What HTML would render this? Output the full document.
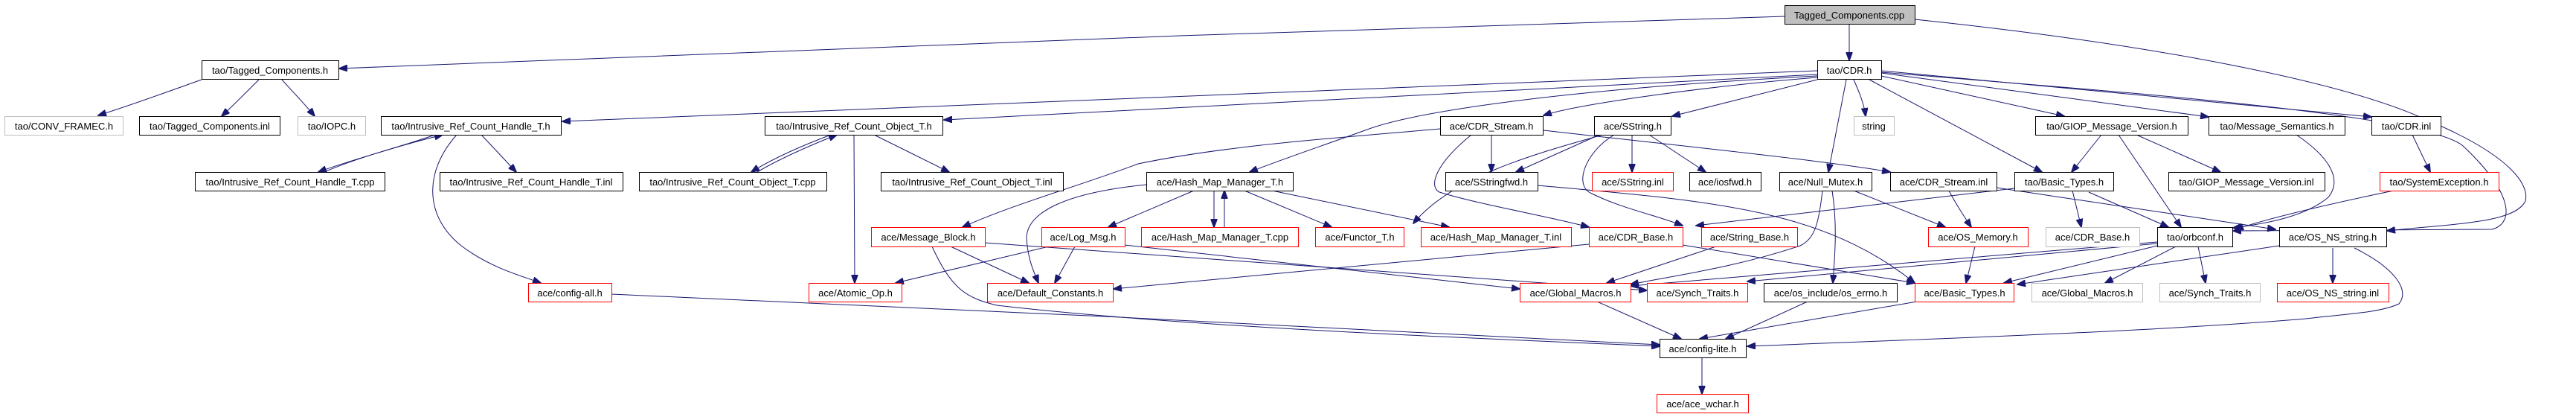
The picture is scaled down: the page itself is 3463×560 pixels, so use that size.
<!DOCTYPE html>
<html><head><meta charset="utf-8"><style>
html,body{margin:0;padding:0;background:#fff;}
svg{display:block;}
text{font-family:"Liberation Sans",sans-serif;font-size:13px;fill:#000;}
.b{fill:#fff;stroke:#000;stroke-width:1;}
.r{fill:#fff;stroke:#f00;stroke-width:1;}
.g{fill:#fff;stroke:#bfbfbf;stroke-width:1;}
.c{fill:#bfbfbf;stroke:#000;stroke-width:1;}
.e{fill:none;stroke:#191970;stroke-width:1;}
</style></head><body>
<svg width="3463" height="560" viewBox="0 0 3463 560" xmlns="http://www.w3.org/2000/svg">
<defs><marker id="a" markerWidth="12" markerHeight="9" refX="11" refY="4.5" orient="auto" markerUnits="userSpaceOnUse"><path d="M0,0 L12,4.5 L0,9 z" fill="#191970" stroke="#191970"/></marker></defs>
<g class="edges" marker-end="url(#a)">
<path class="e" marker-end="url(#a)" d="M2399,22 C1800,40 900,70 456,92"/>
<path class="e" marker-end="url(#a)" d="M2486,32 L2486,81"/>
<path class="e" marker-end="url(#a)" d="M2574,26 C2900,60 3150,110 3260,160 C3380,210 3400,250 3395,270 C3380,300 3300,300 3209,310"/>
<path class="e" marker-end="url(#a)" d="M2529,97 C2800,120 3250,150 3310,195 C3380,260 3380,300 3350,308 L3002,310"/>
<path class="e" marker-end="url(#a)" d="M2443,95 L756,163"/>
<path class="e" marker-end="url(#a)" d="M2443,100 L1269,161"/>
<path class="e" marker-end="url(#a)" d="M2443,104 C2300,115 2120,140 2075,155"/>
<path class="e" marker-end="url(#a)" d="M2443,102 C2100,120 1900,150 1835,175 C1780,195 1720,215 1680,231"/>
<path class="e" marker-end="url(#a)" d="M2443,107 L2248,156"/>
<path class="e" marker-end="url(#a)" d="M2492,107 C2500,125 2506,140 2508,156"/>
<path class="e" marker-end="url(#a)" d="M2482,107 L2458,231"/>
<path class="e" marker-end="url(#a)" d="M2513,107 L2745,231"/>
<path class="e" marker-end="url(#a)" d="M2529,102 L2775,156"/>
<path class="e" marker-end="url(#a)" d="M2529,98 L2969,157"/>
<path class="e" marker-end="url(#a)" d="M2529,95 L3188,157"/>
<path class="e" marker-end="url(#a)" d="M271,107 C220,125 180,140 132,155"/>
<path class="e" marker-end="url(#a)" d="M348,107 C330,125 315,140 298,156"/>
<path class="e" marker-end="url(#a)" d="M379,107 C395,125 410,140 423,156"/>
<path class="e" marker-end="url(#a)" d="M585,181 C530,200 470,215 428,231"/>
<path class="e" marker-end="url(#a)" d="M436,231 C480,212 540,195 595,181"/>
<path class="e" marker-end="url(#a)" d="M647,181 L694,231"/>
<path class="e" marker-end="url(#a)" d="M614,181 C570,230 570,290 620,330 C660,360 700,370 727,380"/>
<path class="e" marker-end="url(#a)" d="M1117,181 C1080,195 1040,212 1010,231"/>
<path class="e" marker-end="url(#a)" d="M1018,231 C1050,212 1090,195 1125,181"/>
<path class="e" marker-end="url(#a)" d="M1175,181 L1276,231"/>
<path class="e" marker-end="url(#a)" d="M1148,181 L1149,380"/>
<path class="e" marker-end="url(#a)" d="M2005,181 L2005,231"/>
<path class="e" marker-end="url(#a)" d="M1978,181 C1930,220 1920,250 1935,258 C1990,275 2080,290 2136,305"/>
<path class="e" marker-end="url(#a)" d="M2075,175 C2250,195 2450,215 2541,231"/>
<path class="e" marker-end="url(#a)" d="M1936,173 C1800,185 1650,195 1530,220 C1450,250 1360,275 1294,305"/>
<path class="e" marker-end="url(#a)" d="M2150,181 L2038,231"/>
<path class="e" marker-end="url(#a)" d="M2194,181 L2194,231"/>
<path class="e" marker-end="url(#a)" d="M2217,181 L2293,231"/>
<path class="e" marker-end="url(#a)" d="M2170,181 C2130,205 2115,250 2140,260 C2180,280 2230,290 2262,303"/>
<path class="e" marker-end="url(#a)" d="M2067,249 C2300,270 2450,280 2574,380"/>
<path class="e" marker-end="url(#a)" d="M2155,181 C2050,210 1950,240 1900,300"/>
<path class="e" marker-end="url(#a)" d="M1605,256 L1490,305"/>
<path class="e" marker-end="url(#a)" d="M1632,256 L1632,305"/>
<path class="e" marker-end="url(#a)" d="M1646,305 L1646,256"/>
<path class="e" marker-end="url(#a)" d="M1673,256 L1790,305"/>
<path class="e" marker-end="url(#a)" d="M1710,256 L1948,305"/>
<path class="e" marker-end="url(#a)" d="M1541,248 C1420,260 1380,290 1380,320 C1382,350 1390,365 1396,380"/>
<path class="e" marker-end="url(#a)" d="M1445,331 L1418,380"/>
<path class="e" marker-end="url(#a)" d="M1410,331 L1204,380"/>
<path class="e" marker-end="url(#a)" d="M1512,329 L2043,388"/>
<path class="e" marker-end="url(#a)" d="M1278,331 L1383,380"/>
<path class="e" marker-end="url(#a)" d="M1253,331 C1280,390 1300,400 1340,410 C1600,440 2000,455 2231,465"/>
<path class="e" marker-end="url(#a)" d="M1324,326 L2214,390"/>
<path class="e" marker-end="url(#a)" d="M2136,328 L1497,388"/>
<path class="e" marker-end="url(#a)" d="M2262,329 L2574,380"/>
<path class="e" marker-end="url(#a)" d="M2307,331 L2160,380"/>
<path class="e" marker-end="url(#a)" d="M2463,256 C2470,300 2467,340 2464,380"/>
<path class="e" marker-end="url(#a)" d="M2450,256 C2445,300 2440,320 2420,330 C2330,360 2250,370 2192,382"/>
<path class="e" marker-end="url(#a)" d="M2492,256 L2615,305"/>
<path class="e" marker-end="url(#a)" d="M2620,256 C2630,275 2640,290 2650,305"/>
<path class="e" marker-end="url(#a)" d="M2786,256 L2798,305"/>
<path class="e" marker-end="url(#a)" d="M2808,258 L2915,305"/>
<path class="e" marker-end="url(#a)" d="M2708,253 L2280,303"/>
<path class="e" marker-end="url(#a)" d="M2684,252 L3059,308"/>
<path class="e" marker-end="url(#a)" d="M2825,181 L2785,231"/>
<path class="e" marker-end="url(#a)" d="M2848,181 L2932,305"/>
<path class="e" marker-end="url(#a)" d="M2872,181 L2985,231"/>
<path class="e" marker-end="url(#a)" d="M3087,181 C3130,210 3150,240 3130,265 C3100,290 3050,300 3002,306"/>
<path class="e" marker-end="url(#a)" d="M3243,181 L3267,231"/>
<path class="e" marker-end="url(#a)" d="M3218,256 C3150,270 3060,290 3005,308"/>
<path class="e" marker-end="url(#a)" d="M2925,331 L2830,380"/>
<path class="e" marker-end="url(#a)" d="M2955,331 L2965,380"/>
<path class="e" marker-end="url(#a)" d="M2900,330 L2694,380"/>
<path class="e" marker-end="url(#a)" d="M2900,325 L2192,384"/>
<path class="e" marker-end="url(#a)" d="M2900,327 L2349,378"/>
<path class="e" marker-end="url(#a)" d="M2655,331 L2643,380"/>
<path class="e" marker-end="url(#a)" d="M3136,333 L3136,380"/>
<path class="e" marker-end="url(#a)" d="M3064,330 L2712,382"/>
<path class="e" marker-end="url(#a)" d="M3165,333 C3220,360 3240,390 3225,408 C3200,420 3150,422 3100,428 C2900,445 2600,455 2349,465"/>
<path class="e" marker-end="url(#a)" d="M2147,405 L2260,455"/>
<path class="e" marker-end="url(#a)" d="M2430,405 L2320,455"/>
<path class="e" marker-end="url(#a)" d="M2577,405 L2285,455"/>
<path class="e" marker-end="url(#a)" d="M822,395 C1200,410 1900,445 2231,463"/>
<path class="e" marker-end="url(#a)" d="M2288,480 L2288,529"/>
</g>
<g>
<rect class="c" x="2399.5" y="7.5" width="175" height="25"/><text x="2486" y="25" text-anchor="middle">Tagged_Components.cpp</text>
<rect class="b" x="271.5" y="81.5" width="184" height="25"/><text x="363" y="99" text-anchor="middle">tao/Tagged_Components.h</text>
<rect class="b" x="2443.5" y="81.5" width="86" height="25"/><text x="2486" y="99" text-anchor="middle">tao/CDR.h</text>

<rect class="g" x="6.5" y="156.5" width="159" height="25"/><text x="86" y="174" text-anchor="middle">tao/CONV_FRAMEC.h</text>
<rect class="b" x="187.5" y="156.5" width="189" height="25"/><text x="282" y="174" text-anchor="middle">tao/Tagged_Components.inl</text>
<rect class="g" x="400.5" y="156.5" width="91" height="25"/><text x="446" y="174" text-anchor="middle">tao/IOPC.h</text>
<rect class="b" x="512.5" y="156.5" width="242" height="25"/><text x="633" y="174" text-anchor="middle">tao/Intrusive_Ref_Count_Handle_T.h</text>
<rect class="b" x="1028.5" y="156.5" width="239" height="25"/><text x="1148" y="174" text-anchor="middle">tao/Intrusive_Ref_Count_Object_T.h</text>
<rect class="b" x="1936.5" y="156.5" width="138" height="25"/><text x="2005" y="174" text-anchor="middle">ace/CDR_Stream.h</text>
<rect class="b" x="2143.5" y="156.5" width="103" height="25"/><text x="2195" y="174" text-anchor="middle">ace/SString.h</text>
<rect class="g" x="2492.5" y="156.5" width="54" height="25"/><text x="2519" y="174" text-anchor="middle">string</text>
<rect class="b" x="2736.5" y="156.5" width="205" height="25"/><text x="2839" y="174" text-anchor="middle">tao/GIOP_Message_Version.h</text>
<rect class="b" x="2969.5" y="156.5" width="183" height="25"/><text x="3061" y="174" text-anchor="middle">tao/Message_Semantics.h</text>
<rect class="b" x="3188.5" y="156.5" width="93" height="25"/><text x="3235" y="174" text-anchor="middle">tao/CDR.inl</text>

<rect class="b" x="262.5" y="231.5" width="255" height="25"/><text x="390" y="249" text-anchor="middle">tao/Intrusive_Ref_Count_Handle_T.cpp</text>
<rect class="b" x="591.5" y="231.5" width="246" height="25"/><text x="714" y="249" text-anchor="middle">tao/Intrusive_Ref_Count_Handle_T.inl</text>
<rect class="b" x="859.5" y="231.5" width="252" height="25"/><text x="985" y="249" text-anchor="middle">tao/Intrusive_Ref_Count_Object_T.cpp</text>
<rect class="b" x="1184.5" y="231.5" width="245" height="25"/><text x="1307" y="249" text-anchor="middle">tao/Intrusive_Ref_Count_Object_T.inl</text>
<rect class="b" x="1541.5" y="231.5" width="197" height="25"/><text x="1640" y="249" text-anchor="middle">ace/Hash_Map_Manager_T.h</text>
<rect class="b" x="1943.5" y="231.5" width="124" height="25"/><text x="2005" y="249" text-anchor="middle">ace/SStringfwd.h</text>
<rect class="r" x="2140.5" y="231.5" width="109" height="25"/><text x="2195" y="249" text-anchor="middle">ace/SString.inl</text>
<rect class="b" x="2271.5" y="231.5" width="96" height="25"/><text x="2319" y="249" text-anchor="middle">ace/iosfwd.h</text>
<rect class="b" x="2392.5" y="231.5" width="124" height="25"/><text x="2454" y="249" text-anchor="middle">ace/Null_Mutex.h</text>
<rect class="b" x="2541.5" y="231.5" width="143" height="25"/><text x="2613" y="249" text-anchor="middle">ace/CDR_Stream.inl</text>
<rect class="b" x="2708.5" y="231.5" width="133" height="25"/><text x="2775" y="249" text-anchor="middle">tao/Basic_Types.h</text>
<rect class="b" x="2915.5" y="231.5" width="210" height="25"/><text x="3020" y="249" text-anchor="middle">tao/GIOP_Message_Version.inl</text>
<rect class="r" x="3199.5" y="231.5" width="160" height="25"/><text x="3279" y="249" text-anchor="middle">tao/SystemException.h</text>

<rect class="r" x="1171.5" y="305.5" width="153" height="26"/><text x="1248" y="323" text-anchor="middle">ace/Message_Block.h</text>
<rect class="r" x="1400.5" y="305.5" width="112" height="26"/><text x="1456" y="323" text-anchor="middle">ace/Log_Msg.h</text>
<rect class="r" x="1534.5" y="305.5" width="211" height="26"/><text x="1640" y="323" text-anchor="middle">ace/Hash_Map_Manager_T.cpp</text>
<rect class="r" x="1768.5" y="305.5" width="119" height="26"/><text x="1828" y="323" text-anchor="middle">ace/Functor_T.h</text>
<rect class="r" x="1910.5" y="305.5" width="202" height="26"/><text x="2011" y="323" text-anchor="middle">ace/Hash_Map_Manager_T.inl</text>
<rect class="r" x="2136.5" y="305.5" width="126" height="26"/><text x="2199" y="323" text-anchor="middle">ace/CDR_Base.h</text>
<rect class="r" x="2287.5" y="305.5" width="129" height="26"/><text x="2352" y="323" text-anchor="middle">ace/String_Base.h</text>
<rect class="r" x="2592.5" y="305.5" width="134" height="26"/><text x="2659" y="323" text-anchor="middle">ace/OS_Memory.h</text>
<rect class="g" x="2750.5" y="305.5" width="126" height="26"/><text x="2813" y="323" text-anchor="middle">ace/CDR_Base.h</text>
<rect class="b" x="2900.5" y="305.5" width="101" height="26"/><text x="2951" y="323" text-anchor="middle">tao/orbconf.h</text>
<rect class="b" x="3064.5" y="305.5" width="144" height="26"/><text x="3136" y="323" text-anchor="middle">ace/OS_NS_string.h</text>

<rect class="r" x="710.5" y="380.5" width="112" height="25"/><text x="766" y="398" text-anchor="middle">ace/config-all.h</text>
<rect class="r" x="1087.5" y="380.5" width="125" height="25"/><text x="1150" y="398" text-anchor="middle">ace/Atomic_Op.h</text>
<rect class="r" x="1327.5" y="380.5" width="169" height="25"/><text x="1412" y="398" text-anchor="middle">ace/Default_Constants.h</text>
<rect class="r" x="2043.5" y="380.5" width="149" height="25"/><text x="2118" y="398" text-anchor="middle">ace/Global_Macros.h</text>
<rect class="r" x="2214.5" y="380.5" width="135" height="25"/><text x="2282" y="398" text-anchor="middle">ace/Synch_Traits.h</text>
<rect class="b" x="2371.5" y="380.5" width="179" height="25"/><text x="2461" y="398" text-anchor="middle">ace/os_include/os_errno.h</text>
<rect class="r" x="2574.5" y="380.5" width="133" height="25"/><text x="2641" y="398" text-anchor="middle">ace/Basic_Types.h</text>
<rect class="g" x="2731.5" y="380.5" width="149" height="25"/><text x="2806" y="398" text-anchor="middle">ace/Global_Macros.h</text>
<rect class="g" x="2903.5" y="380.5" width="135" height="25"/><text x="2971" y="398" text-anchor="middle">ace/Synch_Traits.h</text>
<rect class="r" x="3061.5" y="380.5" width="150" height="25"/><text x="3136" y="398" text-anchor="middle">ace/OS_NS_string.inl</text>

<rect class="b" x="2231.5" y="455.5" width="116" height="25"/><text x="2289" y="473" text-anchor="middle">ace/config-lite.h</text>
<rect class="r" x="2227.5" y="529.5" width="123" height="25"/><text x="2289" y="547" text-anchor="middle">ace/ace_wchar.h</text>
</g>
</svg>
</body></html>
